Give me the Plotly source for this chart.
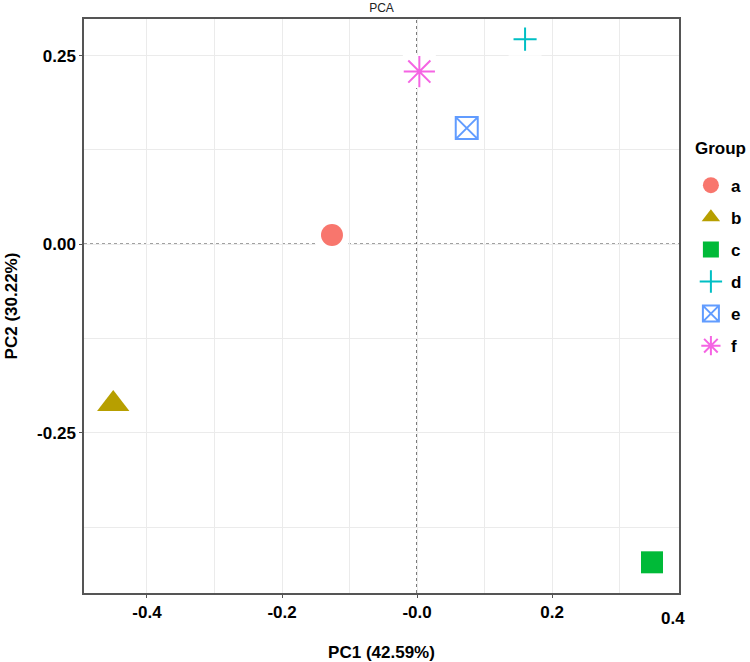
import plotly.graph_objects as go

groups = ["a", "b", "c", "d", "e", "f"]
pc1 = [-0.126, -0.450, 0.348, 0.160, 0.0736, 0.0034]
pc2 = [0.0123, -0.212, -0.4218, 0.272, 0.154, 0.229]
colors = ["#F8766D", "#B79F00", "#00BA38", "#00BFC4", "#619CFF", "#F564E3"]
symbols = ["circle", "triangle-up", "square", "cross-thin-open", "square-x-open", "asterisk-open"]
sizes = [22, 28, 22, 16.5, 22, 26]

x_tickvals = [-0.4, -0.2, 0.0, 0.2]
x_ticktext = ["-0.4", "-0.2", "-0.0", "0.2"]
x_minor = [-0.3, -0.1, 0.1, 0.3]
x_extra_label = "0.4"
y_tickvals = [0.25, 0.0, -0.25]
y_ticktext = ["0.25", "0.00", "-0.25"]
y_minor = [0.125, -0.125, -0.375]

FONT = "Liberation Sans, Arial, sans-serif"

fig = go.Figure()

# white halos (label backgrounds) behind points
fig.add_trace(go.Scatter(
    x=pc1, y=pc2, mode="markers",
    marker=dict(symbol="square", size=33, color="white", line=dict(width=0)),
    showlegend=False, hoverinfo="skip"))

for i, g in enumerate(groups):
    open_sym = symbols[i].endswith("open")
    fig.add_trace(go.Scatter(
        x=[pc1[i]], y=[pc2[i]], mode="markers", name=g,
        legendgroup=g,
        marker=dict(symbol=symbols[i], size=sizes[i], color=colors[i],
                    line=dict(width=2 if open_sym else 0, color=colors[i])),
    ))

# zero reference lines
fig.add_shape(type="line", xref="paper", yref="y", x0=0, x1=1, y0=0, y1=0,
              line=dict(color="#444444", width=1.5, dash="dot"), layer="below")
fig.add_shape(type="line", xref="x", yref="paper", x0=0, x1=0, y0=0, y1=1,
              line=dict(color="#444444", width=1.5, dash="dot"), layer="below")

fig.add_annotation(text=x_extra_label, x=0.379, xref="x", y=-0.0436, yref="paper",
                   yanchor="middle", showarrow=False,
                   font=dict(family=FONT, size=17, color="black", weight="bold"))

fig.add_annotation(text="Group", x=1.024, xref="paper", xanchor="left",
                   y=0.775, yref="paper", yanchor="middle", showarrow=False,
                   font=dict(family=FONT, size=17, color="black", weight="bold"))

fig.update_layout(
    width=750, height=662, autosize=False,
    margin=dict(l=84, r=71, t=19, b=69, autoexpand=False),
    paper_bgcolor="white", plot_bgcolor="white",
    font=dict(family=FONT, color="black"),
    title=dict(text="PCA", x=0.5087, xanchor="center", y=0.995, yanchor="top",
               font=dict(family=FONT, size=12, color="#222222"), automargin=False),
    xaxis=dict(
        range=[-0.4933, 0.388], tickvals=x_tickvals, ticktext=x_ticktext,
        automargin=False,
        showgrid=True, gridcolor="#EBEBEB", gridwidth=1,
        minor=dict(tickvals=x_minor, showgrid=True, gridcolor="#EBEBEB", gridwidth=1, ticks=""),
        showline=True, linecolor="#555555", linewidth=1.5, mirror=True,
        ticks="outside", ticklen=3, tickcolor="#555555", zeroline=False,
        tickfont=dict(family=FONT, size=17, color="black", weight="bold"),
        title=dict(text="PC1 (42.59%)", standoff=26,
                   font=dict(family=FONT, size=17, color="black", weight="bold")),
    ),
    yaxis=dict(
        range=[-0.4625, 0.2987], tickvals=y_tickvals, ticktext=y_ticktext,
        automargin=False,
        showgrid=True, gridcolor="#EBEBEB", gridwidth=1,
        minor=dict(tickvals=y_minor, showgrid=True, gridcolor="#EBEBEB", gridwidth=1, ticks=""),
        showline=True, linecolor="#555555", linewidth=1.5, mirror=True,
        ticks="outside", ticklen=3, tickcolor="#555555", zeroline=False,
        tickfont=dict(family=FONT, size=17, color="black", weight="bold"),
        title=dict(text="PC2 (30.22%)", standoff=15,
                   font=dict(family=FONT, size=17, color="black", weight="bold")),
    ),
    legend=dict(
        x=1.02, xanchor="left", y=0.741, yanchor="top",
        font=dict(family=FONT, size=17, color="black", weight="bold"),
        tracegroupgap=7, itemsizing="trace", bgcolor="rgba(0,0,0,0)",
    ),
)

post = ("document.body.style.margin='0';document.body.style.overflow='hidden';"
        "var gd=document.getElementById('{plot_id}');"
        "Plotly.relayout(gd,{width:750,height:662});")

fig.write_html("out.html", post_script=post, config={"displayModeBar": False})
